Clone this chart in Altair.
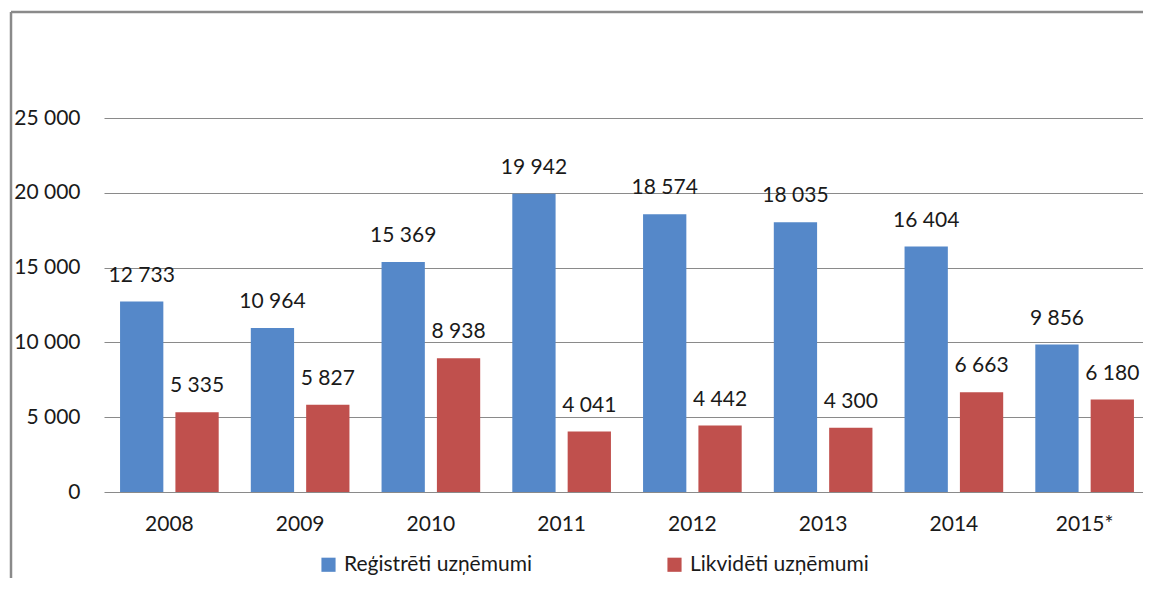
import altair as alt
import pandas as pd

years = ["2008", "2009", "2010", "2011", "2012", "2013", "2014", "2015*"]
registered = [12733, 10964, 15369, 19942, 18574, 18035, 16404, 9856]
liquidated = [5335, 5827, 8938, 4041, 4442, 4300, 6663, 6180]
series = ["Reģistrēti uzņēmumi", "Likvidēti uzņēmumi"]
colors = ["#5588C9", "#C0504D"]
y_ticks = [0, 5000, 10000, 15000, 20000, 25000]

rows = []
for i, yr in enumerate(years):
    rows.append({"year": yr, "series": series[0], "value": registered[i]})
    rows.append({"year": yr, "series": series[1], "value": liquidated[i]})
df = pd.DataFrame(rows)

FONT = "Lato"

x_enc = alt.X("year:N", sort=years, title=None,
              scale=alt.Scale(paddingInner=0, paddingOuter=0, range=[1, 1047]),
              axis=alt.Axis(labelAngle=0, ticks=False, domain=False,
                            labelPadding=21, labelFontSize=21, labelFont=FONT,
                            labelColor="#1a1a1a"))
xoff = alt.XOffset("series:N", sort=series,
                   scale=alt.Scale(domain=series, paddingInner=0.218, paddingOuter=0.29))
y_enc = alt.Y("value:Q", title=None,
              scale=alt.Scale(domain=[0, 25000], nice=False),
              axis=alt.Axis(values=y_ticks, format=",d", ticks=False, domain=False,
                            labelPadding=23, labelFontSize=21, labelFont=FONT,
                            labelColor="#1a1a1a", gridColor="#8a8a8a", gridWidth=1.2))

base = alt.Chart(df)

bars = base.mark_bar().encode(
    x=x_enc,
    xOffset=xoff,
    y=y_enc,
    color=alt.Color("series:N", sort=series,
                    scale=alt.Scale(domain=series, range=colors),
                    legend=alt.Legend(title=None, orient="none", direction="horizontal",
                                      legendX=215, legendY=436,
                                      symbolType="square", symbolSize=200,
                                      symbolStrokeWidth=0, symbolOpacity=1,
                                      labelFont=FONT, labelFontSize=21,
                                      labelColor="#1a1a1a", labelOffset=5,
                                      columnPadding=132, labelLimit=400)),
)

labels = base.mark_text(baseline="alphabetic", dy=-20, font=FONT, fontSize=21,
                        color="#1a1a1a").encode(
    x=alt.X("year:N", sort=years),
    xOffset=alt.XOffset("series:N", sort=series),
    y=alt.Y("value:Q"),
    text=alt.Text("value:Q", format=",d"),
)

frame_df = pd.DataFrame({"a": [0]})
left_line = alt.Chart(frame_df).mark_rule(color="#8a8a8a", strokeWidth=2.5).encode(
    x=alt.value(-92), y=alt.value(-106), y2=alt.value(500))
top_line = alt.Chart(frame_df).mark_rule(color="#8a8a8a", strokeWidth=2.5).encode(
    x=alt.value(-92), x2=alt.value(1060), y=alt.value(-106))

chart = alt.layer(bars, labels, left_line, top_line).properties(
    width=1040, height=374,
    autosize=alt.AutoSizeParams(type="none"),
    padding={"left": 95, "top": 110, "right": 0, "bottom": 86},
).configure(
    locale={"number": {"decimal": ",", "thousands": "\u00a0", "grouping": [3],
                       "currency": ["", ""]}}
).configure_view(stroke=None)

chart.save("out.html", embed_options={"renderer": "svg", "actions": False})
